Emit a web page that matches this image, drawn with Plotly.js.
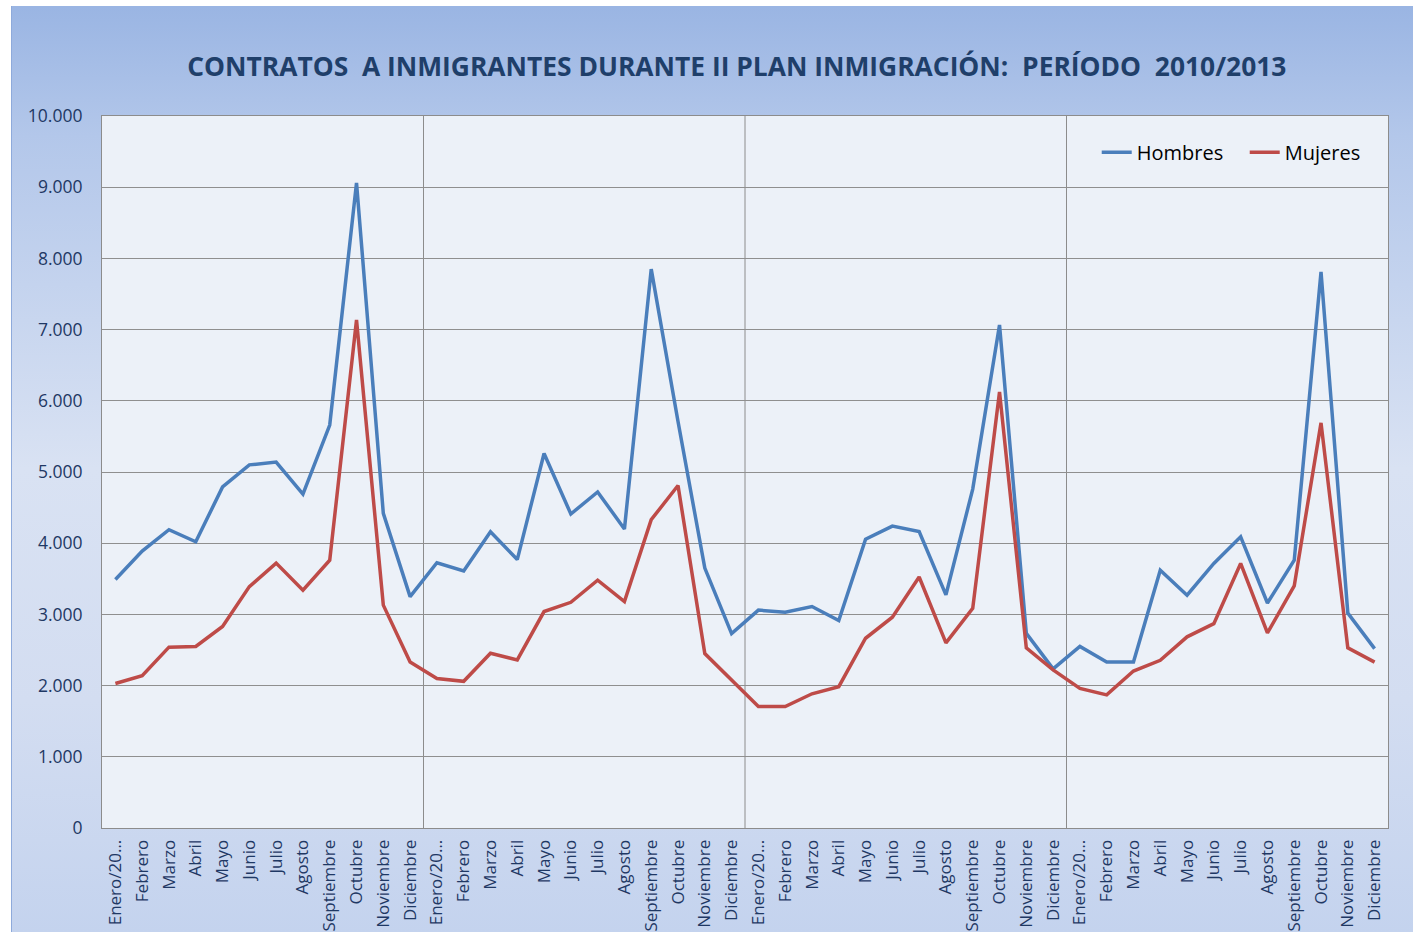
<!DOCTYPE html>
<html>
<head>
<meta charset="utf-8">
<script src="https://cdn.plot.ly/plotly-3.0.1.min.js"></script>
<style>
  html, body { margin: 0; padding: 0; background: #ffffff; width: 1413px; height: 932px; overflow: hidden; }
  #chart {
    position: absolute; left: 11px; top: 6px; width: 1402px; height: 926px;
    background: linear-gradient(to bottom, #9ab5e3 0%, #b3c7ea 14%, #d9e2f3 50%, #d3ddf1 75%, #c4d3ee 100%);
    border-left: 1px solid #8eaadb; box-sizing: border-box;
  }
</style>
</head>
<body>
<div id="chart"></div>
<script>
const monthNames = ["Enero/20…", "Febrero", "Marzo", "Abril", "Mayo", "Junio", "Julio", "Agosto", "Septiembre", "Octubre", "Noviembre", "Diciembre"];
const years = ["2010", "2011", "2012", "2013"];

const hombres = [
  3490, 3890, 4190, 4020, 4790, 5100, 5140, 4690, 5660, 9060, 4420, 3250,
  3725, 3610, 4160, 3770, 5260, 4410, 4720, 4200, 7850, 5710, 3650, 2730,
  3060, 3030, 3110, 2915, 4055, 4240, 4165, 3275, 4760, 7065, 2735, 2235,
  2550, 2330, 2330, 3620, 3270, 3715, 4090, 3160, 3760, 7810, 3020, 2520
];
const mujeres = [
  2030, 2140, 2540, 2550, 2830, 3390, 3720, 3340, 3760, 7135, 3130, 2330,
  2100, 2060, 2455, 2360, 3040, 3170, 3480, 3180, 4330, 4810, 2450, 2080,
  1705, 1705, 1885, 1985, 2665, 2960, 3525, 2600, 3085, 6125, 2530, 2220,
  1960, 1870, 2205, 2355, 2685, 2870, 3715, 2740, 3400, 5690, 2530, 2330
];

const labels = [];
years.forEach(() => monthNames.forEach(m => labels.push(m)));
const idx = labels.map((_, i) => i);

const yearBounds = years.slice(1).map((_, i) => (i + 1) * monthNames.length - 0.5);

const navy = "#1f3864";
const data = [
  { x: idx, y: hombres, name: "Hombres", type: "scatter", mode: "lines",
    line: { color: "#4a7ebb", width: 3.5 } },
  { x: idx, y: mujeres, name: "Mujeres", type: "scatter", mode: "lines",
    line: { color: "#be4b48", width: 3.5 } }
];

const layout = {
  width: 1402, height: 926,
  paper_bgcolor: "rgba(0,0,0,0)",
  plot_bgcolor: "#ecf1f8",
  separators: ",.",
  margin: { l: 90, r: 26, t: 110, b: 104, autoexpand: false },
  title: {
    text: "CONTRATOS\u00a0 A INMIGRANTES DURANTE II PLAN INMIGRACIÓN:\u00a0 PERÍODO\u00a0 2010/2013",
    font: { family: "Open Sans", size: 26.4, color: "#1f3f6a", weight: 700 },
    x: 0.517, xanchor: "center", xref: "container",
    y: 0.934, yanchor: "middle", yref: "container"
  },
  xaxis: {
    type: "linear", range: [-0.5, labels.length - 0.5],
    tickmode: "array", tickvals: idx, ticktext: labels, tickangle: -90,
    showgrid: false, zeroline: false,
    showline: true, mirror: true, linecolor: "#8c8c8c", linewidth: 1,
    ticks: "", ticklabelstandoff: 4,
    tickfont: { family: "Open Sans, Noto Sans", size: 17, color: navy },
    fixedrange: true, automargin: false
  },
  yaxis: {
    range: [0, 10000], dtick: 1000, tick0: 0, tickformat: ",d",
    showgrid: true, gridcolor: "#8f8f8f", gridwidth: 1,
    zeroline: false,
    showline: true, mirror: true, linecolor: "#8c8c8c", linewidth: 1,
    ticks: "", ticklabelstandoff: 15,
    tickfont: { family: "Open Sans, Noto Sans", size: 17.5, color: navy },
    fixedrange: true, automargin: false
  },
  shapes: yearBounds.map(b => ({
    type: "line", xref: "x", yref: "paper", x0: b, x1: b, y0: 0, y1: 1,
    line: { color: "#8c8c8c", width: 1 }, layer: "below"
  })),
  legend: {
    orientation: "h", x: 0.7735, xanchor: "left", y: 0.949, yanchor: "middle",
    bgcolor: "rgba(0,0,0,0)", font: { family: "Open Sans, Noto Sans", size: 20, color: "#000000" },
    entrywidth: 103, entrywidthmode: "pixels", tracegroupgap: 0
  },
  showlegend: true
};

Plotly.newPlot("chart", data, layout, { displayModeBar: false, staticPlot: true });
</script>
</body>
</html>
